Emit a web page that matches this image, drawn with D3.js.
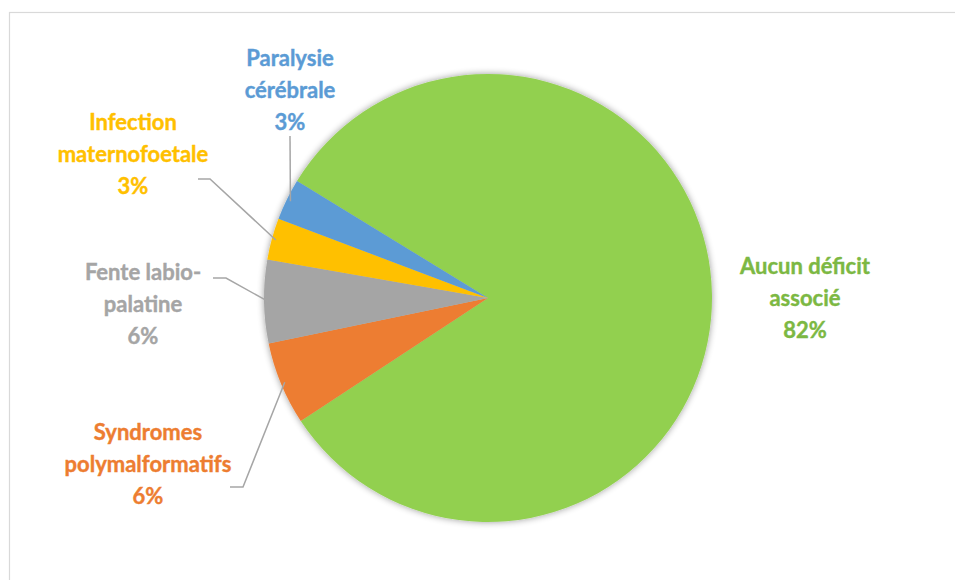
<!DOCTYPE html>
<html>
<head>
<meta charset="utf-8">
<script src="https://cdn.jsdelivr.net/npm/d3@7"></script>
<style>
  body { margin: 0; background: #fff; }
  text { font-family: Lato, "Open Sans", sans-serif; font-weight: bold; }
</style>
</head>
<body>
<script>
// Data
var categories = ["Aucun déficit\nassocié", "Syndromes\npolymalformatifs", "Fente labio-\npalatine", "Infection\nmaternofoetale", "Paralysie\ncérébrale"];
var values = [82, 6, 6, 3, 3];
var sliceColors = ["#92D050", "#ED7D31", "#A5A5A5", "#FFC000", "#5B9BD5"];
var labelColors = ["#7CB843", "#ED7D31", "#A5A5A5", "#FFC000", "#5B9BD5"];

// Label layout (center of text block, leader line elbow)
var labelPos = [[805, 266], [148, 432], [143, 272], [133, 122], [290, 58]];
var leaders = [null, [[230, 487], [243, 487]], [[213, 278], [226, 278]], [[198, 179], [210, 179]], [[290, 136]]];

var width = 955;
var height = 580;
var cx = 488, cy = 298, radius = 224;

var svg = d3.select("body").append("svg")
  .attr("width", width)
  .attr("height", height);

// chart border (cut off at right and bottom)
svg.append("rect")
  .attr("x", 9.5).attr("y", 12.5)
  .attr("width", 1200).attr("height", 1200)
  .attr("fill", "none")
  .attr("stroke", "#D9D9D9")
  .attr("stroke-width", 1.2);

// soft shadow
var defs = svg.append("defs");
var f = defs.append("filter").attr("id", "shadow")
  .attr("x", "-20%").attr("y", "-20%").attr("width", "140%").attr("height", "140%");
f.append("feGaussianBlur").attr("in", "SourceAlpha").attr("stdDeviation", 3.5);
f.append("feOffset").attr("dx", 0).attr("dy", 0).attr("result", "blur");
f.append("feComponentTransfer").append("feFuncA").attr("type", "linear").attr("slope", 0.4);
var m = f.append("feMerge");
m.append("feMergeNode");
m.append("feMergeNode").attr("in", "SourceGraphic");

var g = svg.append("g")
  .attr("transform", "translate(" + cx + "," + cy + ")");

var pie = d3.pie()
  .sort(null)
  .startAngle(-58.5 * Math.PI / 180)
  .endAngle(-58.5 * Math.PI / 180 + 2 * Math.PI)
  .value(function (d) { return d; });

var arc = d3.arc().innerRadius(0).outerRadius(radius);
var edge = d3.arc().innerRadius(radius - 4).outerRadius(radius - 4);

var arcs = pie(values);

g.append("g")
  .attr("filter", "url(#shadow)")
  .selectAll("path")
  .data(arcs)
  .enter()
  .append("path")
  .attr("d", arc)
  .attr("fill", function (d, i) { return sliceColors[i]; });

// Leader lines
arcs.forEach(function (d, i) {
  if (!leaders[i]) return;
  var p = edge.centroid(d);
  var pts = leaders[i].map(function (q) { return [q[0] - cx, q[1] - cy]; });
  pts.push(p);
  g.append("path")
    .attr("d", d3.line()(pts))
    .attr("fill", "none")
    .attr("stroke", "#A6A6A6")
    .attr("stroke-width", 1.5);
});

// Labels
var pct = d3.format(".0%");
var total = d3.sum(values);
arcs.forEach(function (d, i) {
  var lines = categories[i].split("\n").concat([pct(d.data / total)]);
  var t = svg.append("text")
    .attr("text-anchor", "middle")
    .attr("fill", labelColors[i])
    .style("font-size", "22px")
    .style("stroke", labelColors[i])
    .style("stroke-width", 0.4);
  lines.forEach(function (s, k) {
    t.append("tspan")
      .attr("x", labelPos[i][0])
      .attr("y", labelPos[i][1] + k * 32)
      .attr("dy", "0.35em")
      .text(s);
  });
});
</script>
</body>
</html>
